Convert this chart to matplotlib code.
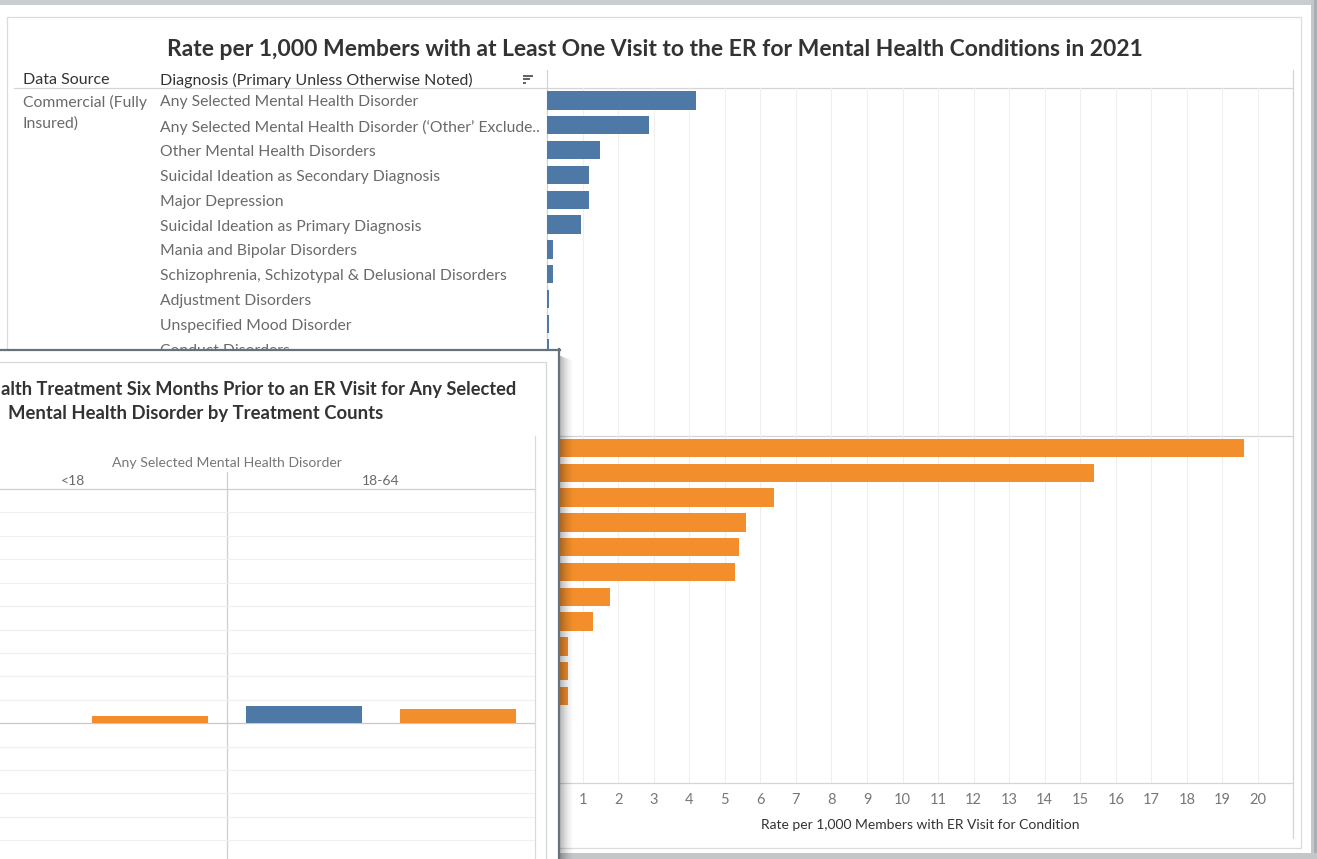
import numpy as np
import matplotlib
matplotlib.use('Agg')
from matplotlib import pyplot as plt
from matplotlib.patches import Rectangle

W, H = 1317, 859

title = 'Rate per 1,000 Members with at Least One Visit to the ER for Mental Health Conditions in 2021'
col_headers = ['Data Source', 'Diagnosis (Primary Unless Otherwise Noted)']
source_label = ['Commercial (Fully', 'Insured)']
diagnoses = ['Any Selected Mental Health Disorder',
             'Any Selected Mental Health Disorder (\u2018Other\u2019 Exclude..',
             'Other Mental Health Disorders',
             'Suicidal Ideation as Secondary Diagnosis',
             'Major Depression',
             'Suicidal Ideation as Primary Diagnosis',
             'Mania and Bipolar Disorders',
             'Schizophrenia, Schizotypal & Delusional Disorders',
             'Adjustment Disorders',
             'Unspecified Mood Disorder',
             'Conduct Disorders']
commercial = [4.18, 2.88, 1.48, 1.17, 1.17, 0.97, 0.17, 0.17, 0.07, 0.07, 0.07]
second_source = [19.61, 15.40, 6.39, 5.59, 5.39, 5.30, 1.78, 1.29, 0.60, 0.60, 0.60]
rows_per_pane = 14
x_ticks = list(range(1, 21))
x_title = 'Rate per 1,000 Members with ER Visit for Condition'

# popup title: only the part visible inside the screenshot
popup_title = ['alth Treatment Six Months Prior to an ER Visit for Any Selected',
               'Mental Health Disorder by Treatment Counts']
popup_header = 'Any Selected Mental Health Disorder'
age_groups = ['<18', '18-64']
popup_blue = [0.0, 7.4]
popup_orange = [3.1, 6.1]

BLUE = '#4e79a7'
ORANGE = '#f28e2b'
DARK = '#333333'
GREY = '#6a6a6a'
LINE = '#d4d4d4'

plt.rcParams['font.family'] = ['Lato', 'DejaVu Sans']
fig = plt.figure(figsize=(W / 100, H / 100), dpi=100)
renderer = fig.canvas.get_renderer()


def px_ax(x0, y0, x1, y1, z):
    a = fig.add_axes([x0 / W, 1 - y1 / H, (x1 - x0) / W, (y1 - y0) / H], zorder=z)
    a.set_facecolor('none')
    return a


def canvas(z):
    a = px_ax(0, 0, W, H, z)
    a.set_xlim(0, W)
    a.set_ylim(H, 0)
    a.axis('off')
    return a


def fit(t, width):
    w = t.get_window_extent(renderer).width
    t.set_fontsize(t.get_fontsize() * width / w)
    return t.get_fontsize()


# ---- main dashboard -------------------------------------------------------
bg = canvas(-1)
bg.add_patch(Rectangle((0, 0), W, 4.5, color='#c9cdd0', lw=0))
bg.add_patch(Rectangle((1311, 0), 6, H, color='#c3c7ca', lw=0))
bg.add_patch(Rectangle((1314, 0), 3, H, color='#a9aeb2', lw=0))
bg.add_patch(Rectangle((0, 853), W, 6, color='#c3c7ca', lw=0))
bg.add_patch(Rectangle((7, 17), 1294, 831, fill=False, ec='#dcdcdc', lw=0.9))

x0, x1, y0, y1 = 547, 1293, 88, 783
bg.plot([14, x1], [y0, y0], color=LINE, lw=0.9)
bg.plot([14, x1], [436, 436], color=LINE, lw=0.9)
bg.plot([x0, x0], [70, y1], color=LINE, lw=0.9)
bg.plot([x1, x1], [70, 838], color=LINE, lw=0.9)
bg.plot([x0, x1], [y1, y1], color=LINE, lw=0.9)

t = bg.text(655, 49, title, ha='center', va='center', fontsize=15, weight='bold', color=DARK)
fit(t, 981)

t = bg.text(160, 80, col_headers[1], va='center', fontsize=10.5, color=DARK)
hs = fit(t, 315)
bg.text(23, 80, col_headers[0], va='center', fontsize=hs, color=DARK)
# sort icon
for yy, ln in zip([75.7, 79.3, 83.0], [10, 7, 3]):
    bg.plot([523, 523 + ln], [yy, yy], color='#555555', lw=1.3, solid_capstyle='butt')

row_h = (y1 - y0) / (2 * rows_per_pane)
t = bg.text(160, y0 + 0.5 * row_h + 2, diagnoses[0], va='center', fontsize=10.5, color=GREY)
rs = fit(t, 260)
for i, name in enumerate(diagnoses[1:], start=1):
    bg.text(160, y0 + (i + 0.5) * row_h + 2, name, va='center', fontsize=rs, color=GREY)
for i, line in enumerate(source_label):
    bg.text(23, 102.5 + 21 * i, line, va='center', fontsize=rs, color=GREY)

ax = px_ax(x0, y0, x1, y1, 0)
ax.set_xlim(0, (x1 - x0) / 35.55)
ax.set_ylim(2 * rows_per_pane, 0)
ax.barh(np.arange(len(commercial)) + 0.5, commercial, height=0.74, color=BLUE)
ax.barh(np.arange(len(second_source)) + rows_per_pane + 0.5, second_source, height=0.74, color=ORANGE)
ax.set_xticks(x_ticks)
ax.set_yticks([])
ax.grid(axis='x', color='#efefef', lw=0.8)
ax.set_axisbelow(True)
for s in ax.spines.values():
    s.set_visible(False)
ax.tick_params(axis='x', length=0, pad=7.5, labelsize=10.5, labelcolor='#777777')

t = bg.text((x0 + x1) / 2, 825, x_title, ha='center', va='center', fontsize=9.5, color=DARK)
fit(t, 319)

# ---- popup window -------------------------------------------------------
pop = canvas(5)
pop.add_patch(Rectangle((-20, 350), 580, 530, fc='white', ec='none'))
for k in range(14):
    pop.add_patch(Rectangle((560 + k, 356 + 0.4 * k), 1, 530, color='black',
                            alpha=0.28 * (1 - k / 14) ** 1.6, lw=0))
pop.plot([559, 559], [349, 870], color='#68727a', lw=1.6)
pop.plot([-5, 560], [350, 350], color='#68727a', lw=1.6)
pop.plot([546, 546], [362, 870], color='#d8d8d8', lw=0.9)
pop.plot([-5, 546], [362, 362], color='#d8d8d8', lw=0.9)

t = pop.text(196, 414, popup_title[1], ha='center', va='center', fontsize=12.5, weight='bold', color=DARK)
ps = fit(t, 374)
t = pop.text(1, 390, popup_title[0], ha='left', va='center', fontsize=ps, weight='bold', color=DARK)
fit(t, 517)

px0, px1, py0 = -81, 535, 489
pop.plot([0, px1], [py0, py0], color='#cfcfcf', lw=0.9)
pop.plot([px1, px1], [436, 870], color='#dadada', lw=0.9)
mid = (px0 + px1) / 2
pop.plot([mid, mid], [472, 870], color='#cfcfcf', lw=0.9)
t = pop.text(mid, 463, popup_header, ha='center', va='center', fontsize=9.5, color='#777777')
hs2 = fit(t, 231)
for g, name in enumerate(age_groups):
    cx = px0 + (px1 - px0) * (2 * g + 1) / 4
    pop.text(cx, 481, name, ha='center', va='center', fontsize=hs2, color='#6a6a6a')

pc = px_ax(px0, py0, px1, H, 6)
pc.set_xlim(0, 2 * len(age_groups))
pc.set_ylim(-58, 100)
for v in range(-50, 100, 10):
    pc.axhline(v, color='#c9c9c9' if v == 0 else '#f0f0f0', lw=0.9, zorder=0)
for g in range(len(age_groups)):
    pc.bar(2 * g + 0.5, popup_blue[g], width=0.75, color=BLUE, zorder=2)
    pc.bar(2 * g + 1.5, popup_orange[g], width=0.75, color=ORANGE, zorder=2)
pc.axis('off')

fig.savefig('out.png', dpi=100)
